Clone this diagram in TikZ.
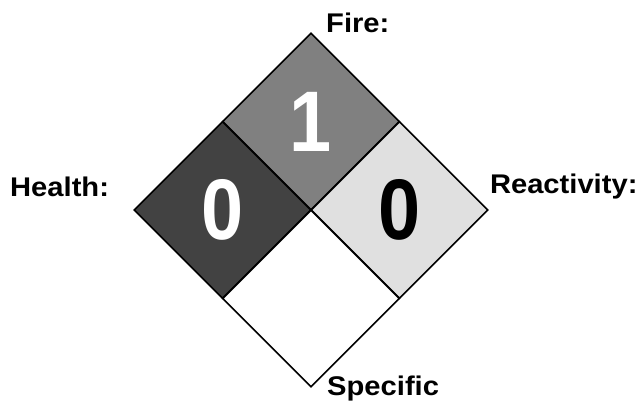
\documentclass[tikz,border=0pt]{standalone}
\usepackage{fontspec}
\setmainfont{Liberation Sans}
\newfontfamily\tagfont[FakeStretch=1.08]{Liberation Sans}
\newfontfamily\digitfont[FakeStretch=0.88]{Liberation Sans}
\usetikzlibrary{positioning,shapes.geometric}
\definecolor{HealthGray}{gray}{0.26}
\definecolor{FireGray}{gray}{0.50}
\definecolor{ReactGray}{gray}{0.88}

\begin{document}
\begin{tikzpicture}[
  x=1pt,y=1pt,
  quad/.style={diamond,draw=black,line width=1.6pt,minimum width=177pt,minimum height=177pt,
    inner sep=0pt,aspect=1,font=\digitfont\fontsize{86}{88}\selectfont\bfseries},
  hazardtag/.style={font=\tagfont\fontsize{27}{30}\selectfont\bfseries,inner sep=0pt}
]
\useasboundingbox (0,0) rectangle (637,404);

% four quadrants of the diamond
\node[quad,fill=FireGray,text=white] (fire) at (311,282.5) {1};
\node[quad,fill=HealthGray,text=white] (health) at (222.5,194) {0};
\node[quad,fill=ReactGray,text=black] (reactivity) at (399.5,194) {0};
\node[quad,fill=white] (specific) at (311,105.5) {};

% labels
\node[hazardtag,anchor=base west] (firetag) at ([xshift=15]fire.north) {Fire:};
\node[hazardtag,anchor=base east] (healthtag) at ([xshift=-24,yshift=13]health.west) {Health:};
\node[hazardtag,anchor=base west] (reactivitytag) at ([xshift=1,yshift=16]reactivity.east) {Reactivity:};
\node[hazardtag,anchor=base west] (specifictag) at ([xshift=16,yshift=-8]specific.south) {Specific};

\end{tikzpicture}
\end{document}
